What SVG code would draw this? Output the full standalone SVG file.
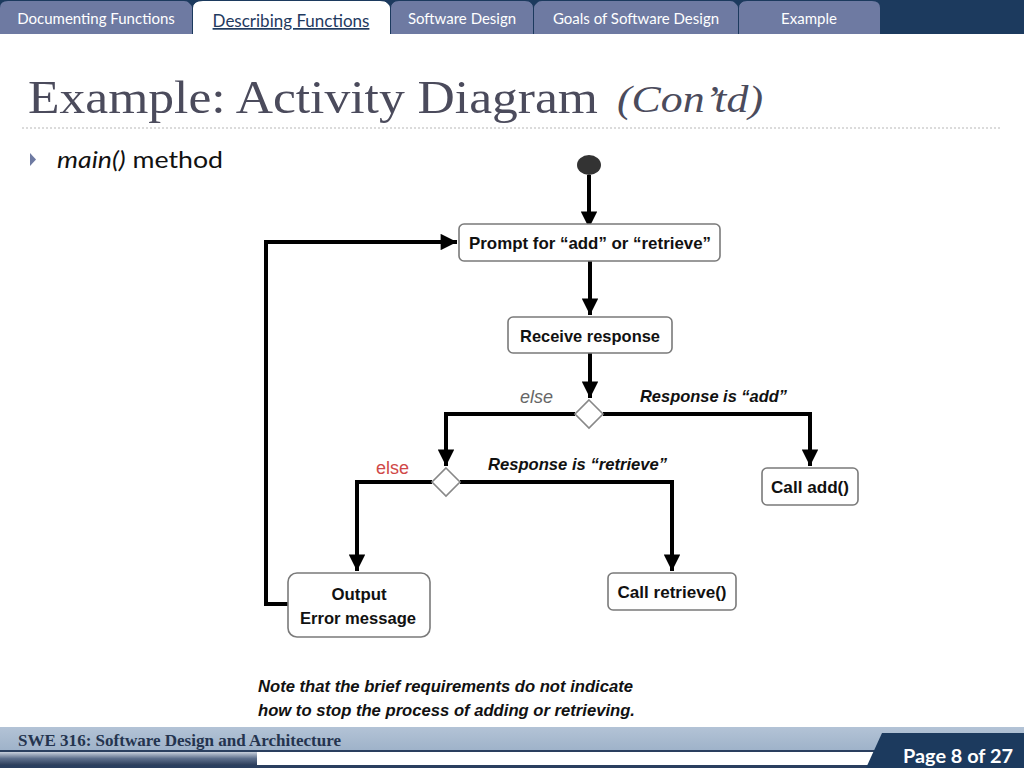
<svg xmlns="http://www.w3.org/2000/svg" width="1024" height="768" viewBox="0 0 1024 768">
<defs>
<style>
.tab{fill:#6e7aa2}
.tabt{font-family:Lato,"Open Sans",sans-serif;font-size:15px;fill:#ffffff;text-anchor:middle}
.box{fill:#ffffff;stroke:#7a7a7a;stroke-width:1.6}
.lbl{font-family:"Liberation Sans Narrow","Liberation Sans",Arial,sans-serif;font-weight:bold;font-size:17px;fill:#111;text-anchor:middle}
.cond{font-family:"Liberation Sans Narrow","Liberation Sans",Arial,sans-serif;font-weight:bold;font-style:italic;font-size:17px;fill:#111}
.els{font-family:"Liberation Sans","Arial",sans-serif;font-size:18px}
.edge{fill:none;stroke:#000;stroke-width:4}
.dia{fill:#fff;stroke:#888;stroke-width:1.6}
</style>
<marker id="ah" viewBox="0 0 10 10" refX="10" refY="5" markerWidth="4.3" markerHeight="4.1" orient="auto" markerUnits="strokeWidth">
<path d="M0,0 L10,5 L0,10 z" fill="#000"/>
</marker>
<linearGradient id="fg" x1="0" y1="0" x2="0" y2="1">
<stop offset="0" stop-color="#c8d0dc"/>
<stop offset="0.5" stop-color="#5d6f8c"/>
<stop offset="1" stop-color="#2d3f5c"/>
</linearGradient>
<linearGradient id="fb" x1="0" y1="0" x2="0" y2="1">
<stop offset="0" stop-color="#b3c3d6"/>
<stop offset="1" stop-color="#9eb2c9"/>
</linearGradient>
</defs>
<rect width="1024" height="768" fill="#ffffff"/>

<!-- top bar -->
<g id="topbar">
<rect x="0" y="0" width="1024" height="34" fill="#1c3a5e"/>
<path class="tab" d="M0,34 V8 Q0,1 8,1 H184 Q192,1 192,8 V34 Z"/>
<path d="M193,34 V8 Q193,1 203,1 H380 Q390,1 390,8 V34 Z" fill="#ffffff"/>
<path class="tab" d="M391,34 V8 Q391,1 399,1 H525 Q533,1 533,8 V34 Z"/>
<path class="tab" d="M534,34 V8 Q534,1 542,1 H730 Q738,1 738,8 V34 Z"/>
<path class="tab" d="M739,34 V8 Q739,1 747,1 H872 Q880,1 880,8 V34 Z"/>
<path d="M186,0 L198,0 L192,6 Z M384,0 L396,0 L390,6 Z M528,0 L540,0 L534,6 Z M732,0 L744,0 L738,6 Z" fill="#1c3a5e"/>
<text class="tabt" x="96" y="24">Documenting Functions</text>
<text x="291" y="27" font-family="Lato,'Open Sans',sans-serif" font-size="17" fill="#1f3a5f" text-anchor="middle" text-decoration="underline">Describing Functions</text>
<text class="tabt" x="462" y="24">Software Design</text>
<text class="tabt" x="636" y="24">Goals of Software Design</text>
<text class="tabt" x="809" y="24">Example</text>
</g>

<!-- title -->
<g id="title">
<text x="28" y="113" font-family="'Liberation Serif','Times New Roman',serif" font-size="46" fill="#4b4b5c" textLength="570" lengthAdjust="spacingAndGlyphs">Example: Activity Diagram</text>
<text x="617" y="112" font-family="'Liberation Serif','Times New Roman',serif" font-style="italic" font-size="38" fill="#4b4b5c" textLength="146" lengthAdjust="spacingAndGlyphs">(Con’td)</text>
<line x1="22" y1="128" x2="1002" y2="128" stroke="#b8b8b8" stroke-width="1.2" stroke-dasharray="2,2"/>
<path d="M30,153 L36,159.5 L30,166 Z" fill="#6e7aa2"/>
<text x="57" y="168" font-family="Lato,'Open Sans',sans-serif" font-size="23" fill="#111" textLength="166" lengthAdjust="spacingAndGlyphs"><tspan font-style="italic">main()</tspan> method</text>
</g>

<!-- connectors -->
<g id="connectors">
<path class="edge" d="M589,175 V228" marker-end="url(#ah)"/>
<path class="edge" d="M590,261 V315" marker-end="url(#ah)"/>
<path class="edge" d="M590,353 V398" marker-end="url(#ah)"/>
<path class="edge" d="M575,414 H446 V466" marker-end="url(#ah)"/>
<path class="edge" d="M603,414 H810 V466" marker-end="url(#ah)"/>
<path class="edge" d="M432,482 H357 V571" marker-end="url(#ah)"/>
<path class="edge" d="M460,482 H672 V571" marker-end="url(#ah)"/>
<path class="edge" d="M288,604 H266 V242 H457" marker-end="url(#ah)"/>
<text class="els" x="520" y="403" fill="#666" font-style="italic" textLength="33" lengthAdjust="spacingAndGlyphs">else</text>
<text class="cond" x="640" y="402" textLength="147" lengthAdjust="spacingAndGlyphs">Response is “add”</text>
<text class="els" x="376" y="474" fill="#d04848" textLength="33" lengthAdjust="spacingAndGlyphs">else</text>
<text class="cond" x="488" y="470" textLength="179" lengthAdjust="spacingAndGlyphs">Response is “retrieve”</text>
</g>

<g id="start"><ellipse cx="589" cy="165" rx="12" ry="10" fill="#333"/></g>
<g id="prompt">
<rect class="box" x="459" y="224" width="261" height="37" rx="5"/>
<text class="lbl" x="590" y="249" textLength="242" lengthAdjust="spacingAndGlyphs">Prompt for “add” or “retrieve”</text>
</g>
<g id="receive">
<rect class="box" x="508" y="317" width="164" height="36" rx="5"/>
<text class="lbl" x="590" y="342" textLength="140" lengthAdjust="spacingAndGlyphs">Receive response</text>
</g>
<g id="decision1"><path class="dia" d="M589,400 L603,414 L589,428 L575,414 Z"/></g>
<g id="decision2"><path class="dia" d="M446,468 L460,482 L446,496 L432,482 Z"/></g>
<g id="calladd">
<rect class="box" x="762" y="468" width="96" height="37" rx="5"/>
<text class="lbl" x="810" y="493" textLength="78" lengthAdjust="spacingAndGlyphs">Call add()</text>
</g>
<g id="callretrieve">
<rect class="box" x="608" y="573" width="128" height="37" rx="5"/>
<text class="lbl" x="672" y="598" textLength="109" lengthAdjust="spacingAndGlyphs">Call retrieve()</text>
</g>
<g id="output">
<rect class="box" x="288" y="573" width="142" height="64" rx="9"/>
<text class="lbl" x="359" y="600" textLength="55" lengthAdjust="spacingAndGlyphs">Output</text>
<text class="lbl" x="358" y="624" textLength="116" lengthAdjust="spacingAndGlyphs">Error message</text>
</g>

<g id="note">
<text class="cond" x="258" y="692" textLength="375" lengthAdjust="spacingAndGlyphs">Note that the brief requirements do not indicate</text>
<text class="cond" x="258" y="716" textLength="377" lengthAdjust="spacingAndGlyphs">how to stop the process of adding or retrieving.</text>
</g>

<!-- footer -->
<g id="footer">
<rect x="0" y="727" width="1024" height="24" fill="url(#fb)"/>
<rect x="0" y="750" width="1024" height="2" fill="#2a3f5f"/>
<rect x="0" y="752" width="1024" height="13" fill="#ffffff"/>
<rect x="0" y="752" width="257" height="13" fill="url(#fg)"/>
<rect x="0" y="765" width="1024" height="3" fill="#2a3f5f"/>
<text x="18" y="746" font-family="'Liberation Serif','Times New Roman',serif" font-weight="bold" font-size="16" fill="#24344f" textLength="323" lengthAdjust="spacingAndGlyphs">SWE 316: Software Design and Architecture</text>
<path d="M882,733 H1024 V768 H866 Z" fill="#1c3a5e"/>
<text x="903" y="763" font-family="Lato,'Open Sans',sans-serif" font-weight="bold" font-size="19" fill="#ffffff" textLength="110" lengthAdjust="spacingAndGlyphs">Page 8 of 27</text>
</g>
</svg>
